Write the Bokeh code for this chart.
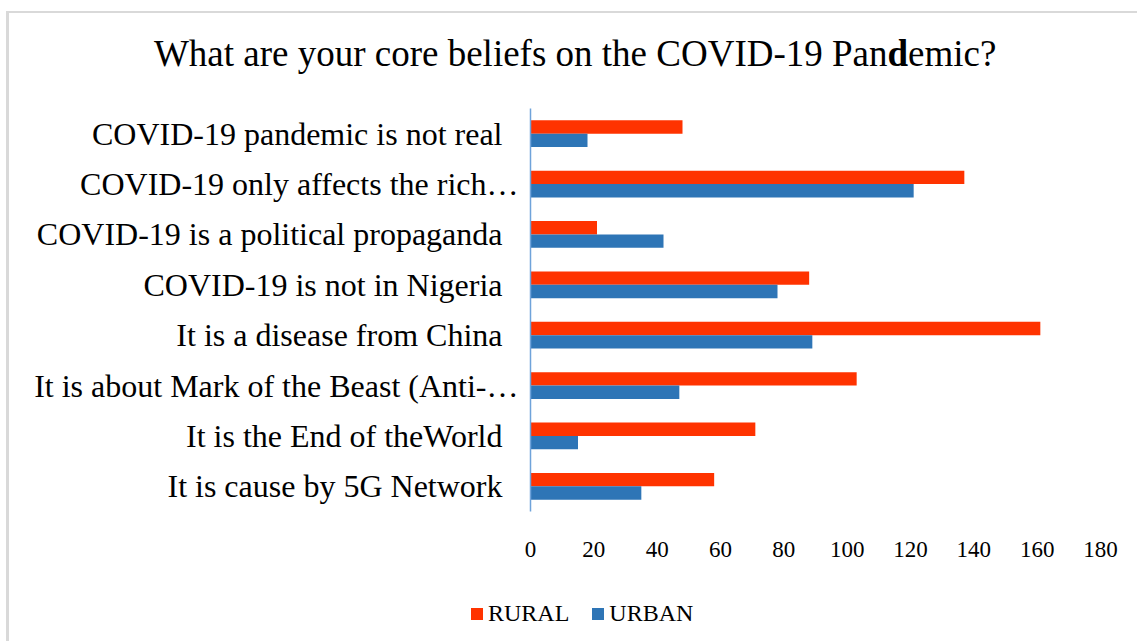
from bokeh.plotting import figure
from bokeh.layouts import column
from bokeh.models import (ColumnDataSource, FactorRange, Range1d, FixedTicker,
                          Legend, LegendItem)
from bokeh.core.properties import value
from bokeh.transform import dodge
from bokeh.embed import file_html
from bokeh.resources import INLINE

# Survey answers, top to bottom as listed on the chart
categories = [
    "COVID-19 pandemic is not real",
    "COVID-19 only affects the rich…",
    "COVID-19 is a political propaganda",
    "COVID-19 is not in Nigeria",
    "It is a disease from China",
    "It is about Mark of the Beast (Anti-…",
    "It is the End of theWorld",
    "It is cause by 5G Network",
]
rural = [48, 137, 21, 88, 161, 103, 71, 58]
urban = [18, 121, 42, 78, 89, 47, 15, 35]
x_ticks = [0, 20, 40, 60, 80, 100, 120, 140, 160, 180]
series = ["RURAL", "URBAN"]

# title pieces: the "d" of Pandemic is set in bold
title_parts = ["What are your core beliefs on the COVID-19 Pan", "d", "emic?"]

SERIF = "Liberation Serif"
RED = "#FF3300"
BLUE = "#2E75B6"
W = 1128


def blank(fig):
    fig.outline_line_color = None
    fig.xgrid.grid_line_color = None
    fig.ygrid.grid_line_color = None
    # strips use their whole canvas; keep them out of the column's frame alignment
    if "frame_align" in fig.properties():
        fig.frame_align = False
    return fig


# ---- title strip -------------------------------------------------------
t = blank(figure(width=W, height=94, x_range=Range1d(0, W), y_range=Range1d(0, 94),
                 x_axis_type=None, y_axis_type=None, output_backend="svg",
                 toolbar_location=None, min_border=0))
tkw = dict(y=54, text_font=value(SERIF), text_font_size="37px",
           text_color="#000000", text_baseline="alphabetic")
t.text(x=[878], text=[title_parts[0]], text_align="right", **tkw)
t.text(x=[878], text=[title_parts[1]], text_align="left", text_font_style="bold", **tkw)
t.text(x=[898.5], text=[title_parts[2]], text_align="left", **tkw)

# ---- bar chart ---------------------------------------------------------
# full labels carry a little trailing space, truncated ones end on the ellipsis
factors = [c if c.endswith("…") else c + "\u00a0\u00a0" for c in categories]
src = ColumnDataSource(dict(cat=factors, rural=rural, urban=urban))

p = figure(
    width=W, height=470,
    y_range=FactorRange(factors=list(reversed(factors)), range_padding=0),
    x_range=Range1d(0, 180),
    output_backend="svg", toolbar_location=None, title=None,
    min_border_left=521, min_border_right=37, min_border_top=1, min_border_bottom=66,
)
p.outline_line_color = None
p.xgrid.grid_line_color = None
p.ygrid.grid_line_color = None

p.hbar(y=dodge("cat", 0.1325, range=p.y_range), right="rural", height=0.265,
       source=src, fill_color=RED, line_color=None)
p.hbar(y=dodge("cat", -0.1325, range=p.y_range), right="urban", height=0.265,
       source=src, fill_color=BLUE, line_color=None)

# value axis: labels only
xa = p.xaxis[0]
xa.ticker = FixedTicker(ticks=x_ticks)
xa.axis_line_color = None
xa.major_tick_line_color = None
xa.minor_tick_line_color = None
xa.major_label_text_font = SERIF
xa.major_label_text_font_size = "23px"
xa.major_label_text_color = "#000000"
xa.major_label_standoff = 24

# category axis with a thin blue spine
ya = p.yaxis[0]
ya.axis_line_color = "#6FA3DA"
ya.axis_line_width = 1.5
ya.major_tick_line_color = None
ya.minor_tick_line_color = None
ya.major_label_text_font = SERIF
ya.major_label_text_font_size = "32px"
ya.major_label_text_color = "#000000"
ya.major_label_standoff = 6

# ---- legend strip --------------------------------------------------------
# the strip holds hidden copies of the two series so the legend can show their swatches
lg = blank(figure(width=W, height=64, x_range=Range1d(0, 180),
                  y_range=FactorRange(factors=list(reversed(factors))),
                  x_axis_type=None, y_axis_type=None, output_backend="svg",
                  toolbar_location=None, min_border=0))
swatches = [lg.hbar(y="cat", right=col, height=0.5, source=src, fill_color=c,
                    line_color=None, visible=False)
            for col, c in (("rural", RED), ("urban", BLUE))]
legend = Legend(
    items=[LegendItem(label=s, renderers=[r]) for s, r in zip(series, swatches)],
    orientation="horizontal", location=(460, 14),
    glyph_width=15, glyph_height=15, label_standoff=4, spacing=21,
    padding=0, margin=0, border_line_color=None, background_fill_alpha=0,
    inactive_fill_alpha=0,
    label_text_font=SERIF, label_text_font_size="24px", label_text_color="#000000",
)
lg.add_layout(legend, "center")

page = column(t, p, lg, spacing=0, styles={
    "margin-left": "6px", "margin-top": "11px",
    "border-left": "3px solid #d9d9d9", "border-top": "2px solid #d9d9d9",
})

open("out.html", "w").write(file_html(page, INLINE))
